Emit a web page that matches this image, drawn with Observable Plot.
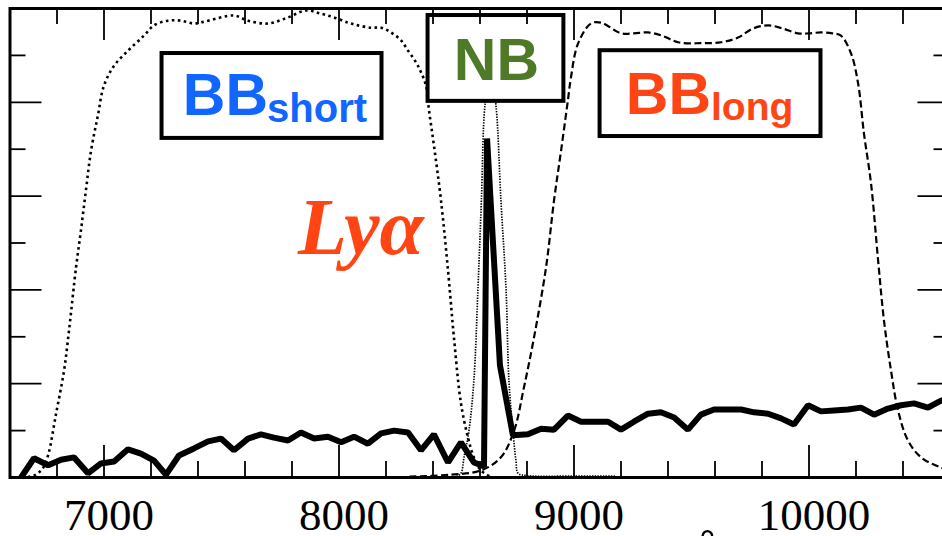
<!DOCTYPE html>
<html>
<head>
<meta charset="utf-8">
<script src="https://cdn.jsdelivr.net/npm/d3@7"></script>
<script src="https://cdn.jsdelivr.net/npm/@observablehq/plot@0.6"></script>
<style>
  body { margin: 0; background: #fff; }
  #chart { width: 942px; height: 536px; overflow: hidden; }
</style>
</head>
<body>
<div id="chart"></div>
<script>
// Observed spectrum (wavelength in Å, normalised flux) with the Lyα line
const specWave = [6647,6702,6762,6817,6872,6932,6987,7043,7102,7157,7213,7264,7319,7383,7443,7498,7553,7613,7668,7723,7783,7838,7894,7953,8009,8064,8123,8179,8234,8294,8349,8404,8464,8519,8574,8609,8617,8630,8685,8740,8804,8860,8915,8974,9030,9085,9145,9200,9255,9315,9370,9426,9485,9540,9596,9655,9711,9766,9826,9881,9936,9996,10051,10106,10166,10221,10277,10336,10391,10447,10506,10562,10620];
const specFlux = [0.000,0.041,0.026,0.038,0.043,0.009,0.030,0.034,0.060,0.051,0.036,0.006,0.047,0.062,0.077,0.083,0.058,0.083,0.092,0.085,0.079,0.096,0.083,0.087,0.075,0.087,0.072,0.094,0.100,0.096,0.058,0.092,0.032,0.075,0.032,0.026,0.023,0.723,0.239,0.090,0.092,0.104,0.102,0.132,0.119,0.119,0.119,0.102,0.119,0.136,0.139,0.128,0.102,0.134,0.145,0.145,0.145,0.139,0.136,0.126,0.113,0.154,0.141,0.143,0.145,0.149,0.134,0.147,0.154,0.158,0.149,0.164,0.170];

// Filter transmission curves
const shortWave = [6650,6702,6740,6762,6796,6830,6851,6881,6902,6923,6945,6974,7000,7043,7102,7170,7213,7272,7328,7383,7443,7553,7613,7698,7783,7860,7923,7979,8038,8081,8136,8179,8221,8264,8294,8328,8349,8370,8383,8404,8434,8464,8489,8519,8549,8574,8604,8640];
const shortTrans = [0.000,0.004,0.020,0.047,0.136,0.228,0.313,0.448,0.527,0.612,0.697,0.772,0.836,0.878,0.910,0.942,0.964,0.974,0.974,0.968,0.974,0.985,0.974,0.968,0.981,0.996,0.989,0.981,0.970,0.964,0.959,0.959,0.949,0.932,0.910,0.885,0.864,0.836,0.783,0.708,0.591,0.441,0.299,0.158,0.085,0.043,0.015,0.003];

const nbWave = [8500,8519,8532,8553,8574,8591,8606,8621,8645,8668,8689,8711,8723,8740,8753,8762,8800,9000,9180];
const nbTrans = [0.002,0.009,0.043,0.100,0.207,0.399,0.591,0.793,0.870,0.793,0.591,0.399,0.207,0.100,0.036,0.009,0.004,0.003,0.003];

const longWave = [8300,8477,8604,8689,8745,8787,8830,8881,8915,8945,8974,8987,9017,9072,9115,9200,9255,9315,9375,9443,9540,9626,9698,9760,9826,9890,9953,10000,10051,10100,10136,10179,10209,10234,10264,10294,10319,10349,10379,10421,10477,10562,10620];
const longTrans = [0.002,0.006,0.015,0.043,0.100,0.192,0.299,0.448,0.591,0.697,0.804,0.853,0.925,0.968,0.970,0.947,0.947,0.949,0.942,0.928,0.926,0.928,0.938,0.957,0.964,0.957,0.947,0.947,0.949,0.947,0.942,0.904,0.840,0.733,0.627,0.463,0.335,0.228,0.143,0.079,0.043,0.021,0.012];

// Axis ticks
const xMajor = [7000, 8000, 9000, 10000];
const xMinor = [6800,7200,7400,7600,7800,8200,8400,8600,8800,9200,9400,9600,9800,10200,10400];
const yMajor = [0.2, 0.4, 0.6, 0.8];
const yMinor = [0.1, 0.3, 0.5, 0.7, 0.9];

const spectrum = specWave.map((w, i) => ({w, f: specFlux[i]}));
const bbShort = shortWave.map((w, i) => ({w, t: shortTrans[i]}));
const nb = nbWave.map((w, i) => ({w, t: nbTrans[i]}));
const bbLong = longWave.map((w, i) => ({w, t: longTrans[i]}));

// Filter name boxes (wavelength / transmission extents) and their labels
const boxes = [
  {x1: 7247, x2: 8183, y1: 0.723, y2: 0.904},
  {x1: 8379, x2: 8957, y1: 0.802, y2: 0.985},
  {x1: 9111, x2: 10051, y1: 0.727, y2: 0.910}
];
const blue = "#1066ff", green = "#4e7a28", red = "#ff4514";

const W = 942, H = 536;
const mL = 9.5, mR = -7.5, mT = 8, mB = 59;
const frameW = W - mL - mR, frameH = H - mT - mB;
const sans = "Liberation Sans, Arial, sans-serif";
const serif = "Liberation Serif, Times New Roman, serif";

const plot = Plot.plot({
  width: W,
  height: H,
  marginLeft: mL,
  marginRight: mR,
  marginTop: mT,
  marginBottom: mB,
  x: {domain: [6600, 10600], axis: null},
  y: {domain: [0, 1], axis: null},
  style: {background: "white", color: "black"},
  marks: [
    Plot.line(bbShort, {x: "w", y: "t", curve: "catmull-rom", stroke: "black", strokeWidth: 2.6, strokeDasharray: "2.6,3.4", strokeLinecap: "butt"}),
    Plot.line(nb, {x: "w", y: "t", curve: "catmull-rom", stroke: "black", strokeWidth: 1.7, strokeDasharray: "1.4,1.3", strokeLinecap: "butt"}),
    Plot.line(bbLong, {x: "w", y: "t", curve: "catmull-rom", stroke: "black", strokeWidth: 2.2, strokeDasharray: "7,3.5", strokeLinecap: "butt"}),
    Plot.line(spectrum, {x: "w", y: "f", stroke: "black", strokeWidth: 6, strokeLinejoin: "miter", strokeLinecap: "butt"}),

    Plot.rect(boxes, {x1: "x1", x2: "x2", y1: "y1", y2: "y2", fill: "white", stroke: "black", strokeWidth: 4}),

    // BB_short
    Plot.text(["BB"], {x: () => 7698, y: () => 0.772, textAnchor: "end", lineAnchor: "bottom", fill: blue, fontFamily: sans, fontWeight: "bold", fontSize: 59}),
    Plot.text(["short"], {x: () => 7698, y: () => 0.772, dx: -1, dy: 7, textAnchor: "start", lineAnchor: "bottom", fill: blue, fontFamily: sans, fontWeight: "bold", fontSize: 40}),
    // NB
    Plot.text(["NB"], {x: () => 8670, y: () => 0.8465, textAnchor: "middle", lineAnchor: "bottom", fill: green, fontFamily: sans, fontWeight: "bold", fontSize: 59}),
    // BB_long
    Plot.text(["BB"], {x: () => 9583, y: () => 0.774, textAnchor: "end", lineAnchor: "bottom", fill: red, fontFamily: sans, fontWeight: "bold", fontSize: 59}),
    Plot.text(["long"], {x: () => 9583, y: () => 0.774, dy: 6, textAnchor: "start", lineAnchor: "bottom", fill: red, fontFamily: sans, fontWeight: "bold", fontSize: 39}),
    // Lyα
    Plot.text(["Lyα"], {x: () => 7826, y: () => 0.4755, textAnchor: "start", lineAnchor: "bottom", fill: red, fontFamily: serif, fontWeight: "bold", fontStyle: "italic", fontSize: 80}),

    // inward ticks on all four sides
    Plot.tickX(xMinor, {x: d => d, insetTop: frameH - 16, strokeWidth: 1.8}),
    Plot.tickX(xMajor, {x: d => d, insetTop: frameH - 32, strokeWidth: 1.8}),
    Plot.tickX(xMinor, {x: d => d, insetBottom: frameH - 16, strokeWidth: 1.8}),
    Plot.tickX(xMajor, {x: d => d, insetBottom: frameH - 32, strokeWidth: 1.8}),
    Plot.tickY(yMinor, {y: d => d, insetRight: frameW - 16, strokeWidth: 1.8}),
    Plot.tickY(yMajor, {y: d => d, insetRight: frameW - 32, strokeWidth: 1.8}),
    Plot.tickY(yMinor, {y: d => d, insetLeft: frameW - 16, strokeWidth: 1.8}),
    Plot.tickY(yMajor, {y: d => d, insetLeft: frameW - 32, strokeWidth: 1.8}),

    // tick labels and unit
    Plot.axisX(xMajor, {anchor: "bottom", tickSize: 0, tickPadding: 21, dx: 5, tickFormat: d => String(d), fontSize: 45, fontFamily: serif, label: null}),
    Plot.text(["Å"], {frameAnchor: "bottom", dx: 228, dy: 101, lineAnchor: "bottom", fontSize: 60, fontFamily: serif}),

    Plot.frame({stroke: "black", strokeWidth: 3})
  ]
});

document.getElementById("chart").appendChild(plot);
</script>
</body>
</html>
